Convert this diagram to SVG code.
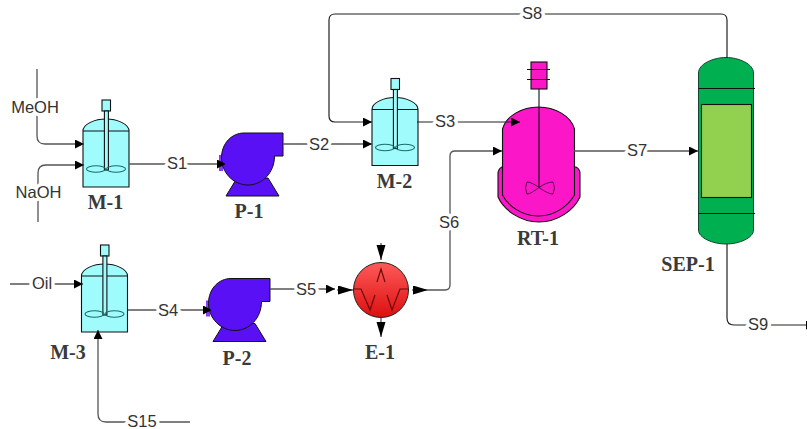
<svg xmlns="http://www.w3.org/2000/svg" width="807" height="429" viewBox="0 0 807 429">
<style>
.c{fill:none;stroke:#555;stroke-width:1.3}
.d{fill:none;stroke:#222;stroke-width:1.2}
.l{font:16.500px "Liberation Sans",Arial,sans-serif;fill:#333;text-anchor:middle;dominant-baseline:central;paint-order:stroke;stroke:#fff;stroke-width:7px;stroke-linejoin:round}
.n{font:bold 20px "Liberation Serif","Times New Roman",serif;fill:#3a3a3a;text-anchor:middle}
.k{fill:none;stroke:#111;stroke-width:1.1}
.mx{fill:#a0fcfc;stroke:#111;stroke-width:1.1}
.mi{fill:none;stroke:#1e6a6a;stroke-width:1.1}
.pu{fill:#5a10f5;stroke:#111;stroke-width:1}
.rt{fill:#fb16c8;stroke:#111;stroke-width:1.1}
</style>
<defs>
<marker id="a" markerUnits="userSpaceOnUse" markerWidth="10" markerHeight="10" refX="9" refY="4.500" orient="auto"><path d="M0 0L9 4.500L0 9Z" fill="#000"/></marker>
<marker id="b" markerUnits="userSpaceOnUse" markerWidth="16" markerHeight="10" refX="15" refY="4.500" orient="auto"><path d="M0 0L15 4.500L0 9Z" fill="#000"/></marker>
<linearGradient id="hx" x1="0" y1="0" x2="0" y2="1"><stop offset="0" stop-color="#ff5a5a"/><stop offset="1" stop-color="#dc0f0f"/></linearGradient>
<g id="mixer">
<path class="mx" d="M83 187V131C83 124 95 119 106 119C117 119 129 124 129 131V187Z"/>
<path class="k" d="M83 131H129"/>
<rect class="mx" x="102" y="100" width="8.500" height="11"/>
<rect class="mx" x="104.400" y="111" width="4" height="59"/>
<ellipse class="mi" cx="96" cy="169" rx="9.500" ry="3.300"/>
<ellipse class="mi" cx="116" cy="169" rx="9.500" ry="3.300"/>
</g>
<g id="pump">
<rect x="219" y="155" width="4" height="16" fill="#8a3cf5"/>
<path class="pu" d="M226 196L237 178H268L279 196Z"/>
<path class="pu" d="M283 133V156H274.500C274.500 173 262 185 248 185C233 185 221.500 172 221.500 158C221.500 143 232 133 244 133Z"/>
</g>
</defs>

<g id="M-1"><use href="#mixer"/><text class="n" x="105.500" y="209">M-1</text></g>
<g id="M-2"><use href="#mixer" transform="translate(289 -21.500)"/><text class="n" x="394.500" y="188">M-2</text></g>
<g id="M-3"><use href="#mixer" transform="translate(-1.500 145)"/><text class="n" x="68" y="359">M-3</text></g>
<g id="P-1"><use href="#pump"/><text class="n" x="249" y="218">P-1</text></g>
<g id="P-2"><use href="#pump" transform="translate(-13 145.500)"/><text class="n" x="237" y="365">P-2</text></g>
<g id="E-1">
<circle cx="381" cy="290" r="27.500" fill="url(#hx)" stroke="#222" stroke-width="1"/>
<path fill="none" stroke="#6a0a0a" stroke-width="1.200" d="M353 289H361L370 310L375 295M377 282L381 269L385 282M387 295L392 310L400 289H408"/>
<text class="n" x="380" y="359">E-1</text>
</g>
<g id="RT-1">
<path class="rt" d="M502 167Q498 169 498 174V197C504 210 520 222 539 222C558 222 574 210 580 197V174Q580 169 576 167Z"/>
<path class="rt" d="M502.500 195V129C506 116 522 107 538.500 107C555 107 571 116 574.500 129V195C568 206 555 216 538.500 216C522 216 508 206 502.500 195Z"/>
<rect class="rt" x="531" y="62" width="16" height="27"/>
<path class="k" d="M527 69.500H550M527 79.500H550M539 89V188"/>
<path d="M539 187.500C534 184 530 182 527 182Q524 187.500 527 194C530 194 534 191 539 187.500C544 184 549 182 553 182Q556 187.500 553 194C549 194 544 191 539 187.500Z" fill="none" stroke="#5a0a4a"/>
<text class="n" x="538" y="245">RT-1</text>
</g>
<g id="SEP-1">
<path d="M698.500 73C698.500 64 713 57.500 726 57.500C739 57.500 753.500 64 753.500 73V230C753.500 238 739 244 726 244C713 244 698.500 238 698.500 230Z" fill="#00b050" stroke="#143" stroke-width="1"/>
<path class="k" d="M698.500 88.500H755M698.500 213.500H755"/>
<rect x="701.500" y="104.500" width="50" height="93" fill="#92d050" stroke="#111" stroke-width="1.100"/>
<text class="n" x="688" y="271">SEP-1</text>
</g>

<g id="connectors">
<path class="c" d="M37 69V136Q37 144 45 144H84" marker-end="url(#a)"/>
<path class="c" d="M38 222V173Q38 165 46 165H84" marker-end="url(#a)"/>
<path class="c" d="M129 164H226" marker-end="url(#a)"/>
<path class="c" d="M283 144H372" marker-end="url(#a)"/>
<path class="d" d="M727 58V20Q727 14 721 14H335Q329 14 329 20V116Q329 122 335 122H372" marker-end="url(#a)"/>
<path class="d" d="M417 122H520" marker-end="url(#a)"/>
<path class="c" d="M428 290H445Q450 290 450 285V156Q450 151 455 151H502" marker-end="url(#a)"/>
<path class="c" d="M574 151H698" marker-end="url(#a)"/>
<path class="d" d="M727 244V318Q727 325 734 325H815" marker-end="url(#a)"/>
<path class="c" d="M10 284H83" marker-end="url(#a)"/>
<path class="c" d="M128 310H212" marker-end="url(#a)"/>
<path class="c" d="M190 422H106Q98 422 98 414V330" marker-end="url(#a)"/>
<path class="c" d="M270 289H335" marker-end="url(#a)"/>
<path class="c" d="M337 290H353" marker-end="url(#b)"/>
<path class="c" d="M412 290H428" marker-end="url(#b)"/>
<path class="c" d="M381 243V260" marker-end="url(#b)"/>
<path class="c" d="M381 318V337" marker-end="url(#b)"/>
<text class="l" x="35" y="107">MeOH</text>
<text class="l" x="38.500" y="192">NaOH</text>
<text class="l" x="42" y="283">Oil</text>
<text class="l" x="177" y="163">S1</text>
<text class="l" x="319" y="144">S2</text>
<text class="l" x="445" y="121">S3</text>
<text class="l" x="168" y="310">S4</text>
<text class="l" x="306" y="289">S5</text>
<text class="l" x="449" y="222">S6</text>
<text class="l" x="637" y="150">S7</text>
<text class="l" x="532" y="13">S8</text>
<text class="l" x="758" y="324">S9</text>
<text class="l" x="142" y="421">S15</text>
</g>
</svg>
